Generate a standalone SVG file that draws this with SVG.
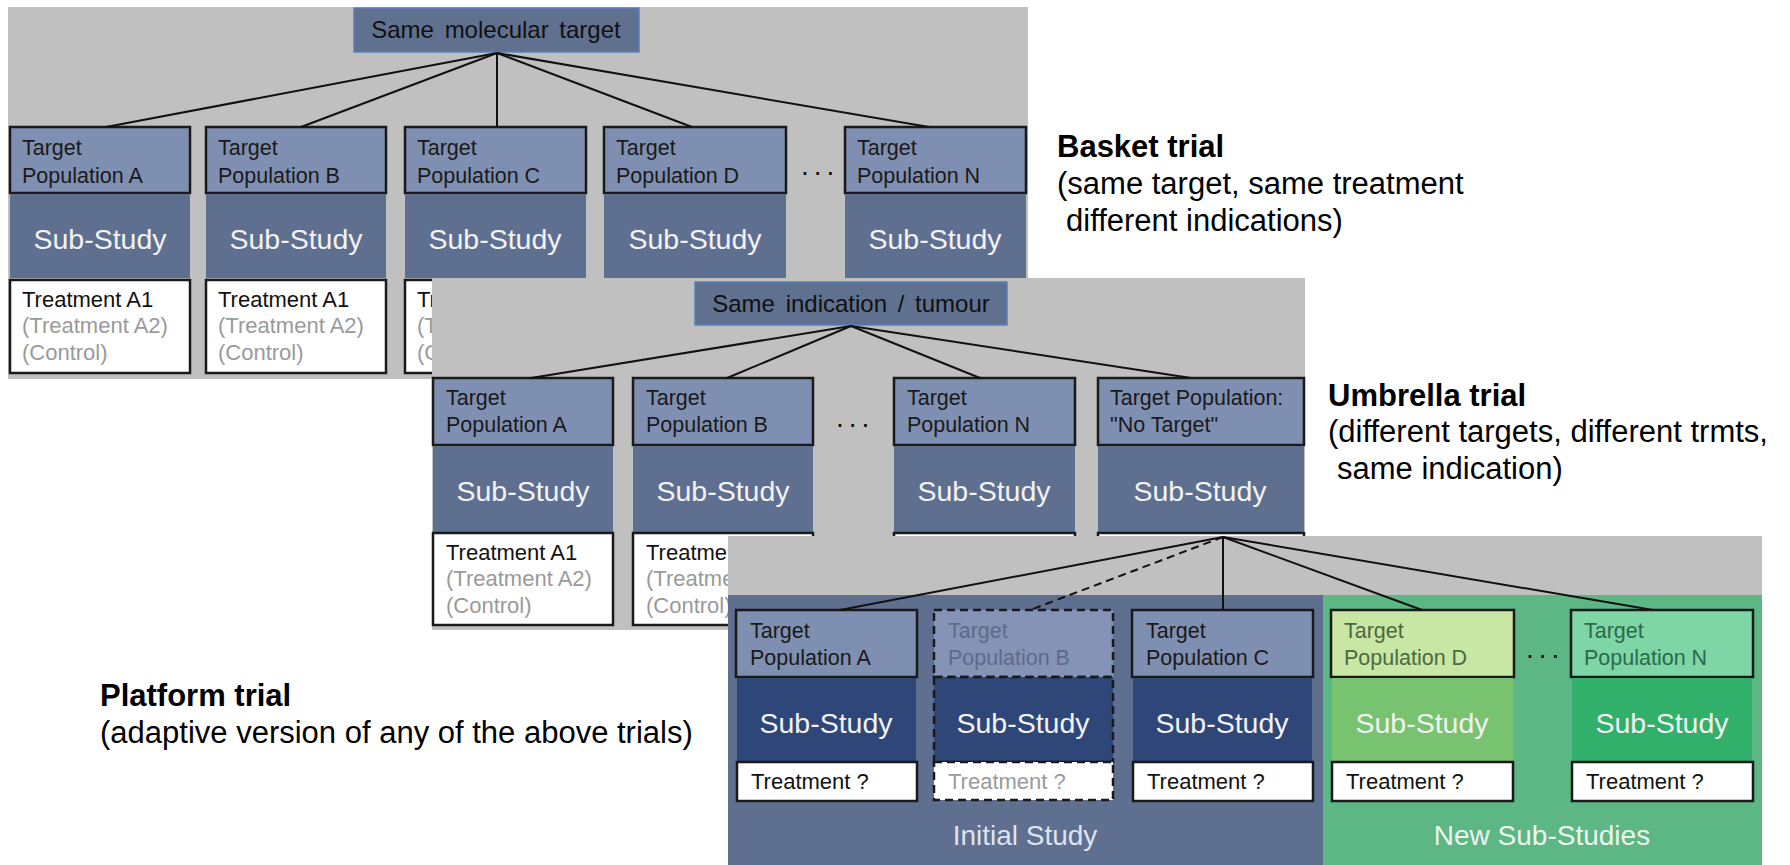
<svg xmlns="http://www.w3.org/2000/svg" width="1790" height="865" viewBox="0 0 1790 865">
<style>
text{font-family:"Liberation Sans",Arial,sans-serif}
.bg{fill:#c0c0c0}
.top{fill:#60708f;stroke:#5b7fb8;stroke-width:1.5}
.hdr{fill:#7f8fb1;stroke:#1a1a1a;stroke-width:2.5}
.sub{fill:#5f6f90}
.sub3{fill:#2f4678}
.trt{fill:#fff;stroke:#1a1a1a;stroke-width:2.5}
.ttl{font-size:24px;fill:#111;text-anchor:middle;word-spacing:4px}
.ht{font-size:21.5px;fill:#1a1a1a}
.st{font-size:28.5px;fill:#f2f2f2;text-anchor:middle}
.tt{font-size:22px;fill:#111}
.tg{fill:#9a9a9a}
.dots{font-size:28px;fill:#111;letter-spacing:5px}
.lbl{font-size:31px;fill:#000}
.lblb{font-size:31px;fill:#000;font-weight:bold}
.foot{font-size:28px;text-anchor:middle}
.dash{stroke-dasharray:8 5}
#connectors line{stroke:#111;stroke-width:2}
</style>

<!-- ===== Basket trial panel ===== -->
<g id="basket-panel">
<rect class="bg" x="8" y="7" width="1020" height="372"/>
<g id="basket-root">
<rect class="top" x="354" y="8" width="285" height="44"/>
<text class="ttl" x="496" y="38">Same molecular target</text>
</g>
<g id="basket-A">
<rect class="hdr" x="10" y="127" width="180" height="66"/>
<text class="ht" x="22" y="155">Target</text><text class="ht" x="22" y="183">Population A</text>
<rect class="sub" x="10" y="194" width="180" height="84"/>
<text class="st" x="100" y="249">Sub-Study</text>
<rect class="trt" x="10" y="280" width="180" height="93"/>
<text class="tt" x="22" y="307">Treatment A1</text><text class="tt tg" x="22" y="333">(Treatment A2)</text><text class="tt tg" x="22" y="360">(Control)</text>
</g>
<g id="basket-B">
<rect class="hdr" x="206" y="127" width="180" height="66"/>
<text class="ht" x="218" y="155">Target</text><text class="ht" x="218" y="183">Population B</text>
<rect class="sub" x="206" y="194" width="180" height="84"/>
<text class="st" x="296" y="249">Sub-Study</text>
<rect class="trt" x="206" y="280" width="180" height="93"/>
<text class="tt" x="218" y="307">Treatment A1</text><text class="tt tg" x="218" y="333">(Treatment A2)</text><text class="tt tg" x="218" y="360">(Control)</text>
</g>
<g id="basket-C">
<rect class="hdr" x="405" y="127" width="181" height="66"/>
<text class="ht" x="417" y="155">Target</text><text class="ht" x="417" y="183">Population C</text>
<rect class="sub" x="405" y="194" width="181" height="84"/>
<text class="st" x="495" y="249">Sub-Study</text>
<rect class="trt" x="405" y="280" width="181" height="93"/>
<text class="tt" x="417" y="307">Treatment A1</text><text class="tt tg" x="417" y="333">(Treatment A2)</text><text class="tt tg" x="417" y="360">(Control)</text>
</g>
<g id="basket-D">
<rect class="hdr" x="604" y="127" width="182" height="66"/>
<text class="ht" x="616" y="155">Target</text><text class="ht" x="616" y="183">Population D</text>
<rect class="sub" x="604" y="194" width="182" height="84"/>
<text class="st" x="695" y="249">Sub-Study</text>
</g>
<text class="dots" x="801" y="175">...</text>
<g id="basket-N">
<rect class="hdr" x="845" y="127" width="181" height="66"/>
<text class="ht" x="857" y="155">Target</text><text class="ht" x="857" y="183">Population N</text>
<rect class="sub" x="845" y="194" width="181" height="84"/>
<text class="st" x="935" y="249">Sub-Study</text>
</g>
</g>

<!-- ===== Umbrella trial panel ===== -->
<g id="umbrella-panel">
<rect class="bg" x="432" y="278" width="873" height="352"/>
<g id="umbrella-root">
<rect class="top" x="695" y="282" width="312" height="43"/>
<text class="ttl" x="851" y="312">Same indication / tumour</text>
</g>
<g id="umbrella-A">
<rect class="hdr" x="433" y="378" width="180" height="67"/>
<text class="ht" x="446" y="405">Target</text><text class="ht" x="446" y="432">Population A</text>
<rect class="sub" x="433" y="446" width="180" height="86"/>
<text class="st" x="523" y="501">Sub-Study</text>
<rect class="trt" x="433" y="533" width="180" height="92"/>
<text class="tt" x="446" y="560">Treatment A1</text><text class="tt tg" x="446" y="586">(Treatment A2)</text><text class="tt tg" x="446" y="613">(Control)</text>
</g>
<g id="umbrella-B">
<rect class="hdr" x="633" y="378" width="180" height="67"/>
<text class="ht" x="646" y="405">Target</text><text class="ht" x="646" y="432">Population B</text>
<rect class="sub" x="633" y="446" width="180" height="86"/>
<text class="st" x="723" y="501">Sub-Study</text>
<rect class="trt" x="633" y="533" width="180" height="92"/>
<text class="tt" x="646" y="560">Treatment A1</text><text class="tt tg" x="646" y="586">(Treatment A2)</text><text class="tt tg" x="646" y="613">(Control)</text>
</g>
<text class="dots" x="836" y="427">...</text>
<g id="umbrella-N">
<rect class="hdr" x="894" y="378" width="181" height="67"/>
<text class="ht" x="907" y="405">Target</text><text class="ht" x="907" y="432">Population N</text>
<rect class="sub" x="894" y="446" width="181" height="86"/>
<text class="st" x="984" y="501">Sub-Study</text>
<rect class="trt" x="894" y="533" width="181" height="92"/>
</g>
<g id="umbrella-NT">
<rect class="hdr" x="1098" y="378" width="206" height="67"/>
<text class="ht" x="1110" y="405">Target Population:</text><text class="ht" x="1110" y="432">"No Target"</text>
<rect class="sub" x="1098" y="446" width="206" height="86"/>
<text class="st" x="1200" y="501">Sub-Study</text>
<rect class="trt" x="1098" y="533" width="206" height="92"/>
</g>
</g>

<!-- ===== Platform trial panel ===== -->
<g id="platform-panel">
<rect class="bg" x="728" y="536" width="1034" height="329"/>
<rect x="728" y="595" width="595" height="270" fill="#5f6f90"/>
<rect x="1323" y="595" width="439" height="270" fill="#5db784"/>
<g id="platform-A">
<rect class="hdr" x="736" y="610" width="181" height="67"/>
<text class="ht" x="750" y="638">Target</text><text class="ht" x="750" y="665">Population A</text>
<rect class="sub3" x="737" y="678" width="179" height="84"/>
<text class="st" x="826" y="733">Sub-Study</text>
<rect class="trt" x="737" y="762" width="180" height="39"/>
<text class="tt" x="751" y="789">Treatment ?</text>
</g>
<g id="platform-B">
<rect class="hdr dash" x="934" y="610" width="179" height="67" style="fill:#8493b6"/>
<text class="ht" x="948" y="638" style="fill:#5f6b88">Target</text><text class="ht" x="948" y="665" style="fill:#5f6b88">Population B</text>
<rect class="sub3 dash" x="934" y="677" width="179" height="85" stroke="#1a1a1a" stroke-width="2.5"/>
<text class="st" x="1023" y="733">Sub-Study</text>
<rect class="trt dash" x="934" y="762" width="179" height="38"/>
<text class="tt tg" x="948" y="789">Treatment ?</text>
</g>
<g id="platform-C">
<rect class="hdr" x="1132" y="610" width="181" height="67"/>
<text class="ht" x="1146" y="638">Target</text><text class="ht" x="1146" y="665">Population C</text>
<rect class="sub3" x="1133" y="678" width="179" height="84"/>
<text class="st" x="1222" y="733">Sub-Study</text>
<rect class="trt" x="1133" y="762" width="180" height="39"/>
<text class="tt" x="1147" y="789">Treatment ?</text>
</g>
<g id="platform-D">
<rect class="hdr" x="1331" y="610" width="183" height="67" style="fill:#c8e6a4"/>
<text class="ht" x="1344" y="638" style="fill:#4b6a40">Target</text><text class="ht" x="1344" y="665" style="fill:#4b6a40">Population D</text>
<rect x="1332" y="678" width="181" height="84" fill="#78c36f"/>
<text class="st" x="1422" y="733">Sub-Study</text>
<rect class="trt" x="1332" y="762" width="181" height="39"/>
<text class="tt" x="1346" y="789">Treatment ?</text>
</g>
<text class="dots" x="1526" y="658">...</text>
<g id="platform-N">
<rect class="hdr" x="1571" y="610" width="182" height="67" style="fill:#7ed5a5"/>
<text class="ht" x="1584" y="638" style="fill:#2c6a4c">Target</text><text class="ht" x="1584" y="665" style="fill:#2c6a4c">Population N</text>
<rect x="1572" y="678" width="180" height="84" fill="#30b06a"/>
<text class="st" x="1662" y="733">Sub-Study</text>
<rect class="trt" x="1572" y="762" width="181" height="39"/>
<text class="tt" x="1586" y="789">Treatment ?</text>
</g>
<text class="foot" x="1025" y="845" fill="#dfe3ee">Initial Study</text>
<text class="foot" x="1542" y="845" fill="#eaf6ef">New Sub-Studies</text>
</g>

<!-- ===== Connectors ===== -->
<g id="connectors">
<line x1="497" y1="53" x2="106" y2="127"/>
<line x1="497" y1="53" x2="301" y2="127"/>
<line x1="497" y1="53" x2="497" y2="127"/>
<line x1="497" y1="53" x2="692" y2="127"/>
<line x1="497" y1="53" x2="929" y2="127"/>
<line x1="851" y1="326" x2="531" y2="378"/>
<line x1="851" y1="326" x2="727" y2="378"/>
<line x1="851" y1="326" x2="980" y2="378"/>
<line x1="851" y1="326" x2="1191" y2="378"/>
<line x1="1223" y1="537" x2="840" y2="610"/>
<line class="dash" x1="1223" y1="537" x2="1030" y2="610"/>
<line x1="1223" y1="537" x2="1223" y2="610"/>
<line x1="1223" y1="537" x2="1422" y2="610"/>
<line x1="1223" y1="537" x2="1653" y2="610"/>
</g>

<!-- ===== Side labels ===== -->
<g id="label-basket">
<text class="lblb" x="1057" y="157">Basket trial</text>
<text class="lbl" x="1057" y="194">(same target, same treatment</text>
<text class="lbl" x="1066" y="231">different indications)</text>
</g>
<g id="label-umbrella">
<text class="lblb" x="1328" y="406">Umbrella trial</text>
<text class="lbl" x="1328" y="442">(different targets, different trmts,</text>
<text class="lbl" x="1337" y="479">same indication)</text>
</g>
<g id="label-platform">
<text class="lblb" x="100" y="706">Platform trial</text>
<text class="lbl" x="100" y="743">(adaptive version of any of the above trials)</text>
</g>
</svg>
